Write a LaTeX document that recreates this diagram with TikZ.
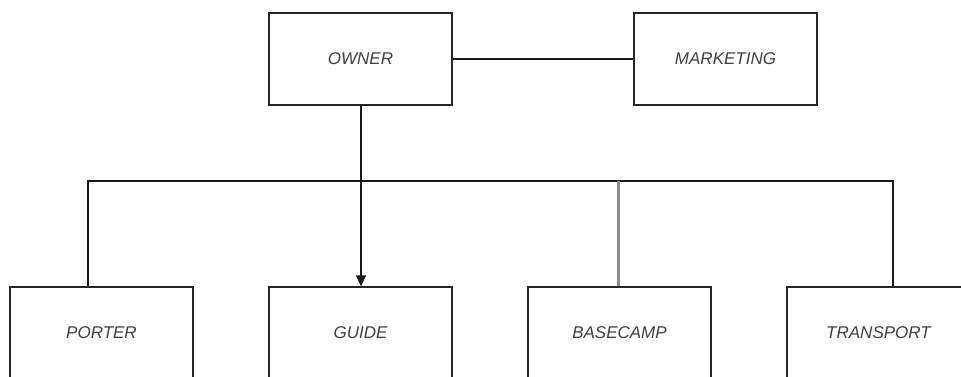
\documentclass[tikz,border=0pt]{standalone}
\usepackage{fontspec}
\setmainfont{Liberation Sans}
\usetikzlibrary{arrows.meta}
\begin{document}
\begin{tikzpicture}[x=1pt,y=-1pt,
  unit/.style={draw=black!85, line width=1.3pt, minimum width=183pt, minimum height=92pt,
    inner sep=0pt, font=\fontsize{17}{20}\selectfont\itshape, text=black!75, anchor=center},
  link/.style={draw=black!90, line width=1.3pt},
  glink/.style={draw=black!45, line width=2.2pt}]
\useasboundingbox (0,0) rectangle (961,376);
\clip (0,0) rectangle (961,376);
% top row
\node[unit] (owner) at (360.5,59) {OWNER};
\node[unit] (marketing) at (725.5,59) {MARKETING};
% bottom row
\node[unit] (porter) at (101.5,333) {PORTER};
\node[unit] (guide) at (360.5,333) {GUIDE};
\node[unit] (basecamp) at (619.5,333) {BASECAMP};
\node[unit] (transport) at (878.5,333) {TRANSPORT};
% distribution bar
\coordinate (barL) at (88,181);
\coordinate (barR) at (893,181);
\coordinate (stem) at (361,0);
\coordinate (bc) at (618.5,181);
\draw[link] (owner) -- (marketing);
\draw[link] (porter.north -| barL) -- (barL) -- (barR) -- (transport.north -| barR);
\draw[glink] (basecamp.north -| bc) -- (bc);
\draw[link, -{Triangle[length=11pt,width=10pt]}] (owner.south -| stem) -- (guide.north -| stem);
\end{tikzpicture}
\end{document}
